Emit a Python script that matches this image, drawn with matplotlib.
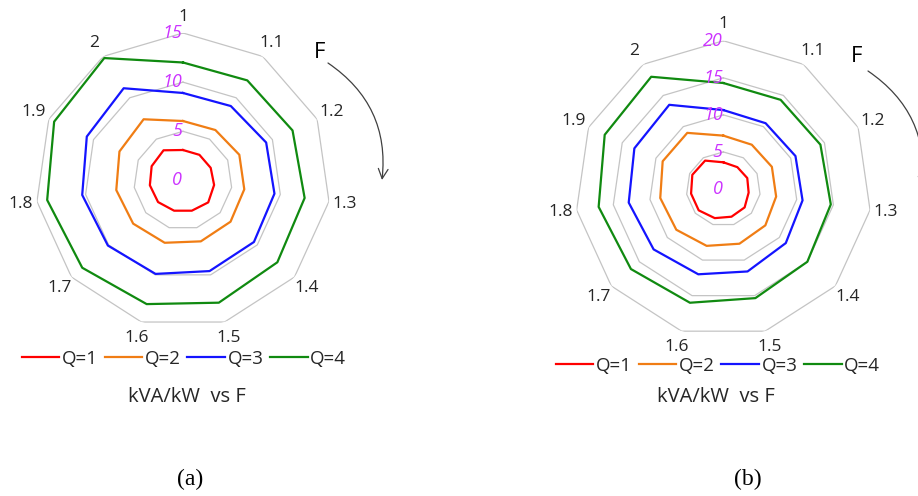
import numpy as np
import matplotlib
matplotlib.use("Agg")
import matplotlib.pyplot as plt
from matplotlib.patches import FancyArrowPatch

plt.rcParams["font.family"] = ["Open Sans", "DejaVu Sans"]

# F values around the radar (clockwise from top)
F_LABELS = ["1", "1.1", "1.2", "1.3", "1.4", "1.5", "1.6", "1.7", "1.8", "1.9", "2"]
Q_LABELS = ["Q=1", "Q=2", "Q=3", "Q=4"]

# kVA/kW, panel (a)
a_q1 = [3.1, 3.1, 3.1, 3.2, 3.4, 3.2, 3.2, 3.35, 3.4, 3.5, 3.65]
a_q2 = [6.05, 6.1, 6.3, 6.3, 6.4, 6.45, 6.6, 6.7, 6.85, 7.1, 7.4]
a_q3 = [8.9, 9.0, 9.3, 9.4, 9.55, 9.6, 9.9, 10.1, 10.35, 10.75, 11.15]
a_q4 = [12.0, 12.1, 12.25, 12.5, 12.7, 12.95, 13.1, 13.55, 13.95, 14.4, 14.8]
a_ticks = [0, 5, 10, 15]

# kVA/kW, panel (b)
b_q1 = [3.6, 3.5, 3.55, 3.45, 3.8, 3.9, 4.1, 4.4, 4.4, 4.6, 4.55]
b_q2 = [7.2, 7.1, 7.2, 7.2, 7.5, 7.7, 8.0, 8.4, 8.6, 9.0, 9.0]
b_q3 = [10.65, 10.55, 10.7, 10.8, 11.15, 11.6, 12.0, 12.45, 12.9, 13.2, 13.5]
b_q4 = [14.3, 14.3, 14.4, 14.65, 15.0, 15.35, 16.0, 16.5, 17.0, 17.6, 18.0]
b_ticks = [0, 5, 10, 15, 20]

COLORS = ["#ff0000", "#f07d14", "#1414ff", "#108a10"]
GRID = "#c4c4c4"
PINK = "#cc33ff"
TXT = "#262626"

W, H = 918, 496


def radar(rect, series, ticks):
    ax = fig.add_axes(rect, projection="polar")
    ax.set_theta_zero_location("N")
    ax.set_theta_direction(-1)
    rmax = ticks[-1]
    ax.set_ylim(0, rmax)
    ax.set_axis_off()

    n = len(F_LABELS)
    theta = np.linspace(0, 2 * np.pi, n, endpoint=False)
    tt = np.append(theta, theta[0])

    for t in ticks[1:]:
        ax.plot(tt, [t] * (n + 1), color=GRID, lw=0.9, zorder=1)

    lines = []
    for vals, c, lab in zip(series, COLORS, Q_LABELS):
        v = np.append(vals, vals[0])
        ln, = ax.plot(tt, v, color=c, lw=1.6, label=lab, zorder=3)
        lines.append(ln)

    for th, lab in zip(theta, F_LABELS):
        ax.text(th, rmax * 1.11, lab, ha="center", va="center",
                fontsize=12.5, color=TXT, clip_on=False)

    for t in ticks:
        ax.annotate(str(t), (0, t), xytext=(-0.5, 0), textcoords="offset points",
                    ha="right", va="center", fontsize=13, style="italic",
                    color=PINK, zorder=4, annotation_clip=False)
    return ax, lines


def px(x, y):
    return (x / W, 1 - y / H)


fig = plt.figure(figsize=(9.18, 4.96), dpi=100)

ax_a, lines_a = radar([0.0386, 0.3387, 0.3214, 0.5948],
                      [a_q1, a_q2, a_q3, a_q4], a_ticks)
ax_b, lines_b = radar([0.6265, 0.3202, 0.3229, 0.5976],
                      [b_q1, b_q2, b_q3, b_q4], b_ticks)

leg_kw = dict(ncol=4, frameon=False, fontsize=13.5, handlelength=2.0,
              handletextpad=0.15, columnspacing=0.35, loc="center",
              borderaxespad=0, borderpad=0, labelcolor=TXT)
fig.legend(lines_a, Q_LABELS, bbox_to_anchor=px(184, 359), **leg_kw)
fig.legend(lines_b, Q_LABELS, bbox_to_anchor=px(718, 366), **leg_kw)

for (x, y) in [(187, 397), (716, 397)]:
    fig.text(*px(x, y), "kVA/kW  vs F", ha="center", va="center", fontsize=14.5,
             color=TXT)

fig.text(*px(190, 479), "(a)", ha="center", va="center", fontsize=17,
         family=["Liberation Serif", "DejaVu Serif"])
fig.text(*px(748, 479), "(b)", ha="center", va="center", fontsize=17,
         family=["Liberation Serif", "DejaVu Serif"])

# direction arrows "F"
for (fx, fy), (sx, sy), (ex, ey) in [((320, 53), (328, 63), (382, 180)),
                                     ((857, 57), (868, 71), (922, 188))]:
    fig.text(*px(fx, fy), "F", ha="center", va="center", fontsize=16)
    arr = FancyArrowPatch(px(sx, sy), px(ex, ey), transform=fig.transFigure,
                          connectionstyle="arc3,rad=-0.3",
                          arrowstyle="->,head_length=7,head_width=3.5",
                          color="#404040", lw=0.9, shrinkA=0, shrinkB=0)
    fig.add_artist(arr)

fig.savefig("out.png", dpi=100)
